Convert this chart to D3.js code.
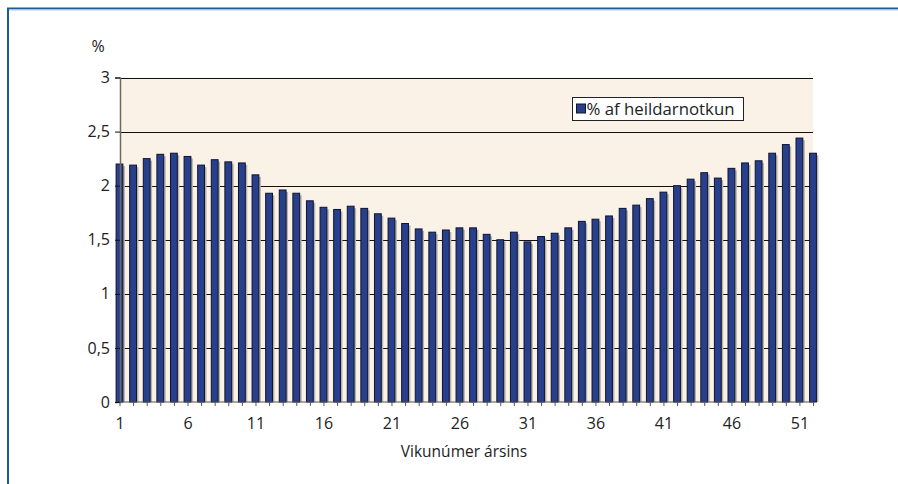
<!DOCTYPE html>
<html>
<head>
<meta charset="utf-8">
<script src="https://cdn.jsdelivr.net/npm/d3@7"></script>
<style>
	body { margin: 0; background: #fff; }
	svg { display: block; font-family: 'Open Sans', 'Noto Sans', sans-serif; }
</style>
</head>
<body>
<svg class="display"></svg>
<script>
// week numbers 1..52
const weeks = d3.range(1, 53);
// share of total use per week (%)
const share = [
	2.20, 2.19, 2.25, 2.29, 2.30, 2.27, 2.19, 2.24, 2.22, 2.21,
	2.10, 1.93, 1.96, 1.93, 1.86, 1.80, 1.78, 1.81, 1.79, 1.74,
	1.70, 1.65, 1.60, 1.57, 1.59, 1.61, 1.61, 1.55, 1.50, 1.57,
	1.48, 1.53, 1.56, 1.61, 1.67, 1.69, 1.72, 1.79, 1.82, 1.88,
	1.94, 2.00, 2.06, 2.12, 2.07, 2.16, 2.21, 2.23, 2.30, 2.38,
	2.44, 2.30
];
const yTicks = [0, 0.5, 1, 1.5, 2, 2.5, 3];
const xTickLabels = [1, 6, 11, 16, 21, 26, 31, 36, 41, 46, 51];
const seriesName = '% af heildarnotkun';

const totalWidth = 898,
	totalHeight = 484;
const plot = { left: 120, right: 813, top: 77.5, bottom: 402 };

const svg = d3.select('.display').attr('width', totalWidth).attr('height', totalHeight);

//outer frame (top and left blue rule)
svg.append('path')
	.attr('d', 'M8,484 V8.5 H898')
	.attr('fill', 'none')
	.attr('stroke', '#1d5a9c')
	.attr('stroke-width', 2);
svg.append('line')
	.attr('x1', 9).attr('x2', 898).attr('y1', 10).attr('y2', 10)
	.attr('stroke', '#b9cde2').attr('stroke-width', 1);

const xScale = d3.scalePoint().domain(weeks).range([119.5, plot.right]);
const yScale = d3.scaleLinear().domain([0, 3]).range([plot.bottom, plot.top]);

//plot background
svg.append('rect')
	.attr('x', plot.left).attr('y', plot.top)
	.attr('width', plot.right - plot.left).attr('height', plot.bottom - plot.top)
	.attr('fill', '#faf2e6');

//gridlines
svg.append('g')
	.selectAll('line')
	.data(yTicks.filter((d) => d > 0))
	.enter()
	.append('line')
	.attr('x1', plot.left).attr('x2', plot.right)
	.attr('y1', (d) => Math.round(yScale(d)) + 0.5)
	.attr('y2', (d) => Math.round(yScale(d)) + 0.5)
	.attr('stroke', '#111');

//bars: shadow then bar
const barWidth = 6.8;
svg.append('g')
	.selectAll('rect')
	.data(share)
	.enter()
	.append('rect')
	.attr('x', (d, i) => xScale(weeks[i]) - barWidth / 2 + 2)
	.attr('y', (d) => yScale(d) + 2)
	.attr('width', barWidth)
	.attr('height', (d) => plot.bottom - yScale(d) - 2)
	.attr('fill', '#b7b2a8');

svg.append('g')
	.selectAll('rect')
	.data(share)
	.enter()
	.append('rect')
	.attr('x', (d, i) => xScale(weeks[i]) - barWidth / 2)
	.attr('y', (d) => yScale(d))
	.attr('width', barWidth)
	.attr('height', (d) => plot.bottom - yScale(d))
	.attr('fill', '#283f8c')
	.attr('stroke', '#0d1430')
	.attr('stroke-width', 1);

//y axis
const yAxis = d3.axisLeft(yScale)
	.tickValues(yTicks)
	.tickSize(5)
	.tickFormat((d) => String(d).replace('.', ','));
const yG = svg.append('g')
	.attr('transform', 'translate(' + plot.left + ',0)')
	.call(yAxis);
yG.attr('font-size', null).attr('font-family', null);
yG.select('.domain').attr('stroke', '#6f6a60').attr('stroke-width', 1.5);
yG.selectAll('.tick line').attr('stroke', '#111');
yG.selectAll('.tick text')
	.attr('x', -10)
	.style('font-size', '16px')
	.attr('fill', '#222');

//x axis
const xAxis = d3.axisBottom(xScale)
	.tickSize(4)
	.tickFormat((d) => (xTickLabels.includes(d) ? d : ''));
const xG = svg.append('g')
	.attr('transform', 'translate(0,' + plot.bottom + ')')
	.call(xAxis);
xG.attr('font-size', null).attr('font-family', null);
xG.select('.domain').attr('d', 'M' + plot.left + ',0H' + plot.right).attr('stroke', '#555');
xG.selectAll('.tick line').attr('stroke', '#555');
xG.selectAll('.tick text')
	.attr('y', 16)
	.style('font-size', '16px')
	.attr('fill', '#222');

//axis labels
svg.append('text')
	.attr('x', 98).attr('y', 52)
	.attr('text-anchor', 'middle')
	.style('font-size', '16px')
	.attr('fill', '#222')
	.text('%');
svg.append('text')
	.attr('x', 464).attr('y', 457)
	.attr('text-anchor', 'middle')
	.style('font-size', '15.5px')
	.attr('fill', '#222')
	.text('Vikunúmer ársins');

//legend
const legend = svg.append('g').attr('transform', 'translate(572.5,97.5)');
legend.append('rect')
	.attr('width', 171).attr('height', 23)
	.attr('fill', '#fff')
	.attr('stroke', '#222');
legend.append('rect')
	.attr('x', 4).attr('y', 6.5)
	.attr('width', 9).attr('height', 9)
	.attr('fill', '#283f8c')
	.attr('stroke', '#0d1430');
legend.append('text')
	.attr('x', 14).attr('y', 17.5)
	.style('font-size', '16.8px')
	.attr('fill', '#222')
	.text(seriesName);
</script>
</body>
</html>
